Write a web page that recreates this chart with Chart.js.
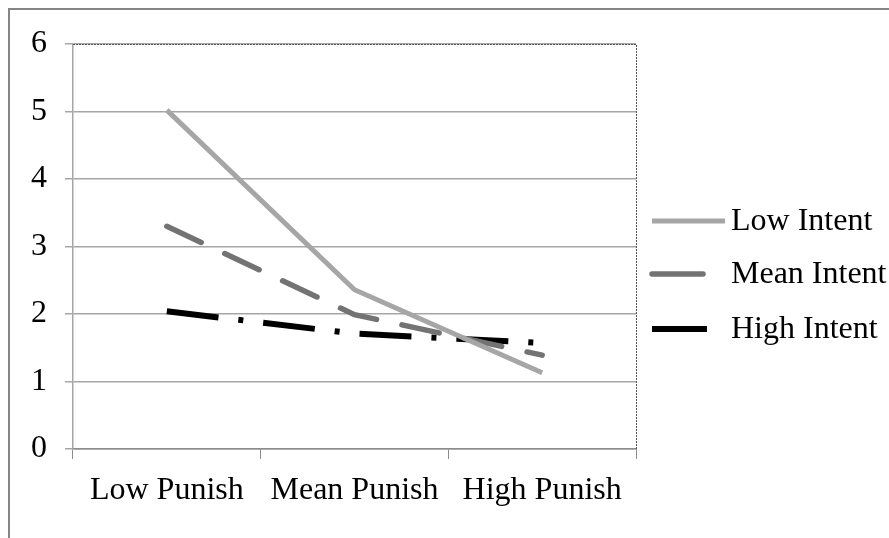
<!DOCTYPE html>
<html>
<head>
<meta charset="utf-8">
<script src="https://cdn.jsdelivr.net/npm/chart.js@4"></script>
<style>
  html, body { margin: 0; padding: 0; background: #fff; }
  #wrap { width: 889px; height: 538px; position: relative; }
</style>
</head>
<body>
<div id="wrap"><canvas id="intentChart"></canvas></div>
<script>
// ข้อมูลของกราฟ
const categories = ['Low Punish', 'Mean Punish', 'High Punish'];
const lowIntent = [5.02, 2.36, 1.13];
const meanIntent = [3.30, 1.99, 1.39];
const highIntent = [2.04, 1.71, 1.57];
const yTicks = [0, 1, 2, 3, 4, 5, 6];

const fontFamily = '"Liberation Serif", "Times New Roman", serif';
const fontSize = 32;

// กรอบนอก (เส้นเทาด้านบนและซ้าย) + เส้นประด้านบน/ขวาของพื้นที่กราฟ
const framePlugin = {
    id: 'frame',
    beforeDraw(chart) {
        const c = chart.ctx;
        c.save();
        c.strokeStyle = '#868686';
        c.lineWidth = 2;
        c.beginPath();
        c.moveTo(9, 538);
        c.lineTo(9, 9);
        c.lineTo(889, 9);
        c.stroke();
        c.restore();
    },
    afterDraw(chart) {
        const a = chart.chartArea;
        const c = chart.ctx;
        c.save();
        c.strokeStyle = '#555';
        c.lineWidth = 1;
        c.setLineDash([2, 1]);
        c.beginPath();
        c.moveTo(a.left, a.top + 0.5);
        c.lineTo(a.right + 0.5, a.top + 0.5);
        c.lineTo(a.right + 0.5, a.bottom);
        c.stroke();
        c.restore();
    }
};

// วาด legend เอง (ตัวอย่างเส้นยาวไม่เท่ากัน)
const sampleLen = [73, 51, 55];
const legendPlugin = {
    id: 'sideLegend',
    afterDraw(chart) {
        const c = chart.ctx;
        const ys = [221, 274, 329];
        c.save();
        chart.data.datasets.forEach((ds, i) => {
            c.strokeStyle = ds.borderColor;
            c.lineWidth = ds.borderWidth;
            c.lineCap = ds.borderCapStyle;
            c.setLineDash([]);
            c.beginPath();
            c.moveTo(652, ys[i]);
            c.lineTo(652 + sampleLen[i], ys[i]);
            c.stroke();
            c.fillStyle = '#000';
            c.font = fontSize + 'px ' + fontFamily;
            c.textBaseline = 'middle';
            c.fillText(ds.label, 731, ys[i] + 1);
        });
        c.restore();
    }
};

const ctx = document.getElementById('intentChart').getContext('2d');
new Chart(ctx, {
    type: 'line',
    data: {
        labels: categories,
        datasets: [
            {
                label: 'Low Intent',
                data: lowIntent,
                borderColor: '#a6a6a6',
                borderWidth: 5,
                borderCapStyle: 'butt',
                pointRadius: 0,
                tension: 0,
                fill: false
            },
            {
                label: 'Mean Intent',
                data: meanIntent,
                borderColor: '#737373',
                borderWidth: 5.5,
                borderDash: [38, 26],
                borderCapStyle: 'round',
                pointRadius: 0,
                tension: 0,
                fill: false
            },
            {
                label: 'High Intent',
                data: highIntent,
                borderColor: '#000000',
                borderWidth: 6,
                borderDash: [52, 20, 5, 20],
                borderCapStyle: 'butt',
                pointRadius: 0,
                tension: 0,
                fill: false
            }
        ]
    },
    options: {
        responsive: true,
        maintainAspectRatio: false,
        animation: false,
        layout: { padding: { left: 0, top: 44, right: 253, bottom: 0 } },
        plugins: {
            legend: { display: false },
            tooltip: { enabled: false }
        },
        scales: {
            x: {
                type: 'category',
                offset: true,
                afterFit(scale) { scale.height = 89; },
                grid: {
                    offset: true,
                    drawOnChartArea: false,
                    drawTicks: true,
                    tickLength: 10,
                    color: '#8c8c8c'
                },
                border: { color: '#8c8c8c', width: 1.5 },
                ticks: {
                    color: '#000',
                    padding: 12,
                    font: { family: fontFamily, size: fontSize }
                }
            },
            y: {
                min: 0,
                max: 6,
                afterFit(scale) { scale.width = 73; },
                afterBuildTicks(scale) { scale.ticks = yTicks.map(v => ({ value: v })); },
                grid: {
                    color: '#a6a6a6',
                    lineWidth: 1.5,
                    tickLength: 8
                },
                border: { color: '#a6a6a6', width: 1.5 },
                ticks: {
                    color: '#000',
                    padding: 18,
                    font: { family: fontFamily, size: fontSize }
                }
            }
        }
    },
    plugins: [framePlugin, legendPlugin]
});
</script>
</body>
</html>
